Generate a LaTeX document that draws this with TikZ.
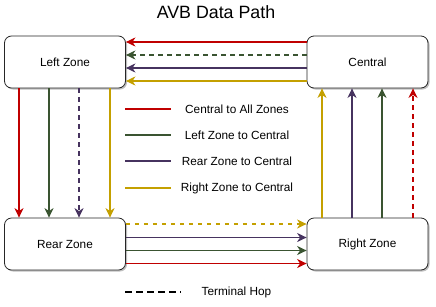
\documentclass[tikz,border=0pt]{standalone}
\usepackage{fontspec}
\setmainfont{Liberation Sans}
\usetikzlibrary{arrows.meta,shadows}
\definecolor{cred}{HTML}{C00000}
\definecolor{cgreen}{HTML}{3A5431}
\definecolor{cpurple}{HTML}{46335F}
\definecolor{cyellow}{HTML}{C4A000}
\tikzset{
  zone/.style={draw=black!85, line width=0.8pt, fill=white, rounded corners=7pt,
    minimum width=121pt, minimum height=52pt, inner sep=0pt,
    font=\fontsize{11.8}{14}\selectfont,
    drop shadow={shadow xshift=1.5pt, shadow yshift=-1.5pt, fill=black, opacity=0.25}},
  flow/.style={line width=1.7pt, -{Stealth[length=9.5pt,width=9pt,inset=3pt]}},
  hop/.style={dash pattern=on 4.5pt off 4.5pt},
  legline/.style={line width=2pt},
  legtext/.style={font=\fontsize{11.8}{14}\selectfont, inner sep=0pt}
}
\begin{document}
\begin{tikzpicture}[x=1pt,y=-1pt]
\useasboundingbox (0,0) rectangle (436,306);
\node[font=\fontsize{17.8}{20}\selectfont, inner sep=0pt] (title) at (216,12) {AVB Data Path};
\node[zone] (left) at (65,62) {Left Zone};
\node[zone] (central) at (367.5,62) {Central};
\node[zone] (rear) at (65,244) {Rear Zone};
\node[zone] (right) at (367.5,244) {Right Zone};
% Central -> Left
\draw[flow, cred] (central.west |- 0,42) -- (left.east |- 0,42);
\draw[flow, cgreen, hop] (central.west |- 0,55) -- (left.east |- 0,55);
\draw[flow, cpurple] (central.west |- 0,68) -- (left.east |- 0,68);
\draw[flow, cyellow] (central.west |- 0,81) -- (left.east |- 0,81);
% Left -> Rear
\draw[flow, cred] (left.south -| 19,0) -- (rear.north -| 19,0);
\draw[flow, cgreen] (left.south -| 49,0) -- (rear.north -| 49,0);
\draw[flow, cpurple, hop] (left.south -| 79,0) -- (rear.north -| 79,0);
\draw[flow, cyellow] (left.south -| 110,0) -- (rear.north -| 110,0);
% Rear -> Right
\draw[flow, cyellow, hop] (rear.east |- 0,224) -- (right.west |- 0,224);
\draw[flow, cpurple] (rear.east |- 0,237.5) -- (right.west |- 0,237.5);
\draw[flow, cgreen] (rear.east |- 0,250.5) -- (right.west |- 0,250.5);
\draw[flow, cred] (rear.east |- 0,263.5) -- (right.west |- 0,263.5);
% Right -> Central
\draw[flow, cyellow] (right.north -| 322,0) -- (central.south -| 322,0);
\draw[flow, cpurple] (right.north -| 352,0) -- (central.south -| 352,0);
\draw[flow, cgreen] (right.north -| 382,0) -- (central.south -| 382,0);
\draw[flow, cred, hop] (right.north -| 413,0) -- (central.south -| 413,0);
% Legend
\draw[legline, cred] (125,109) -- (171,109);
\node[legtext] (l1) at (237,109) {Central to All Zones};
\draw[legline, cgreen] (125,135) -- (171,135);
\node[legtext] (l2) at (237,135) {Left Zone to Central};
\draw[legline, cpurple] (125,161) -- (171,161);
\node[legtext] (l3) at (237,161) {Rear Zone to Central};
\draw[legline, cyellow] (125,188) -- (171,188);
\node[legtext] (l4) at (237,188) {Right Zone to Central};
\draw[line width=1.5pt, dash pattern=on 6.5pt off 4.5pt] (125,292) -- (181,292);
\node[legtext] (l5) at (236.5,292) {Terminal Hop};
\end{tikzpicture}
\end{document}
